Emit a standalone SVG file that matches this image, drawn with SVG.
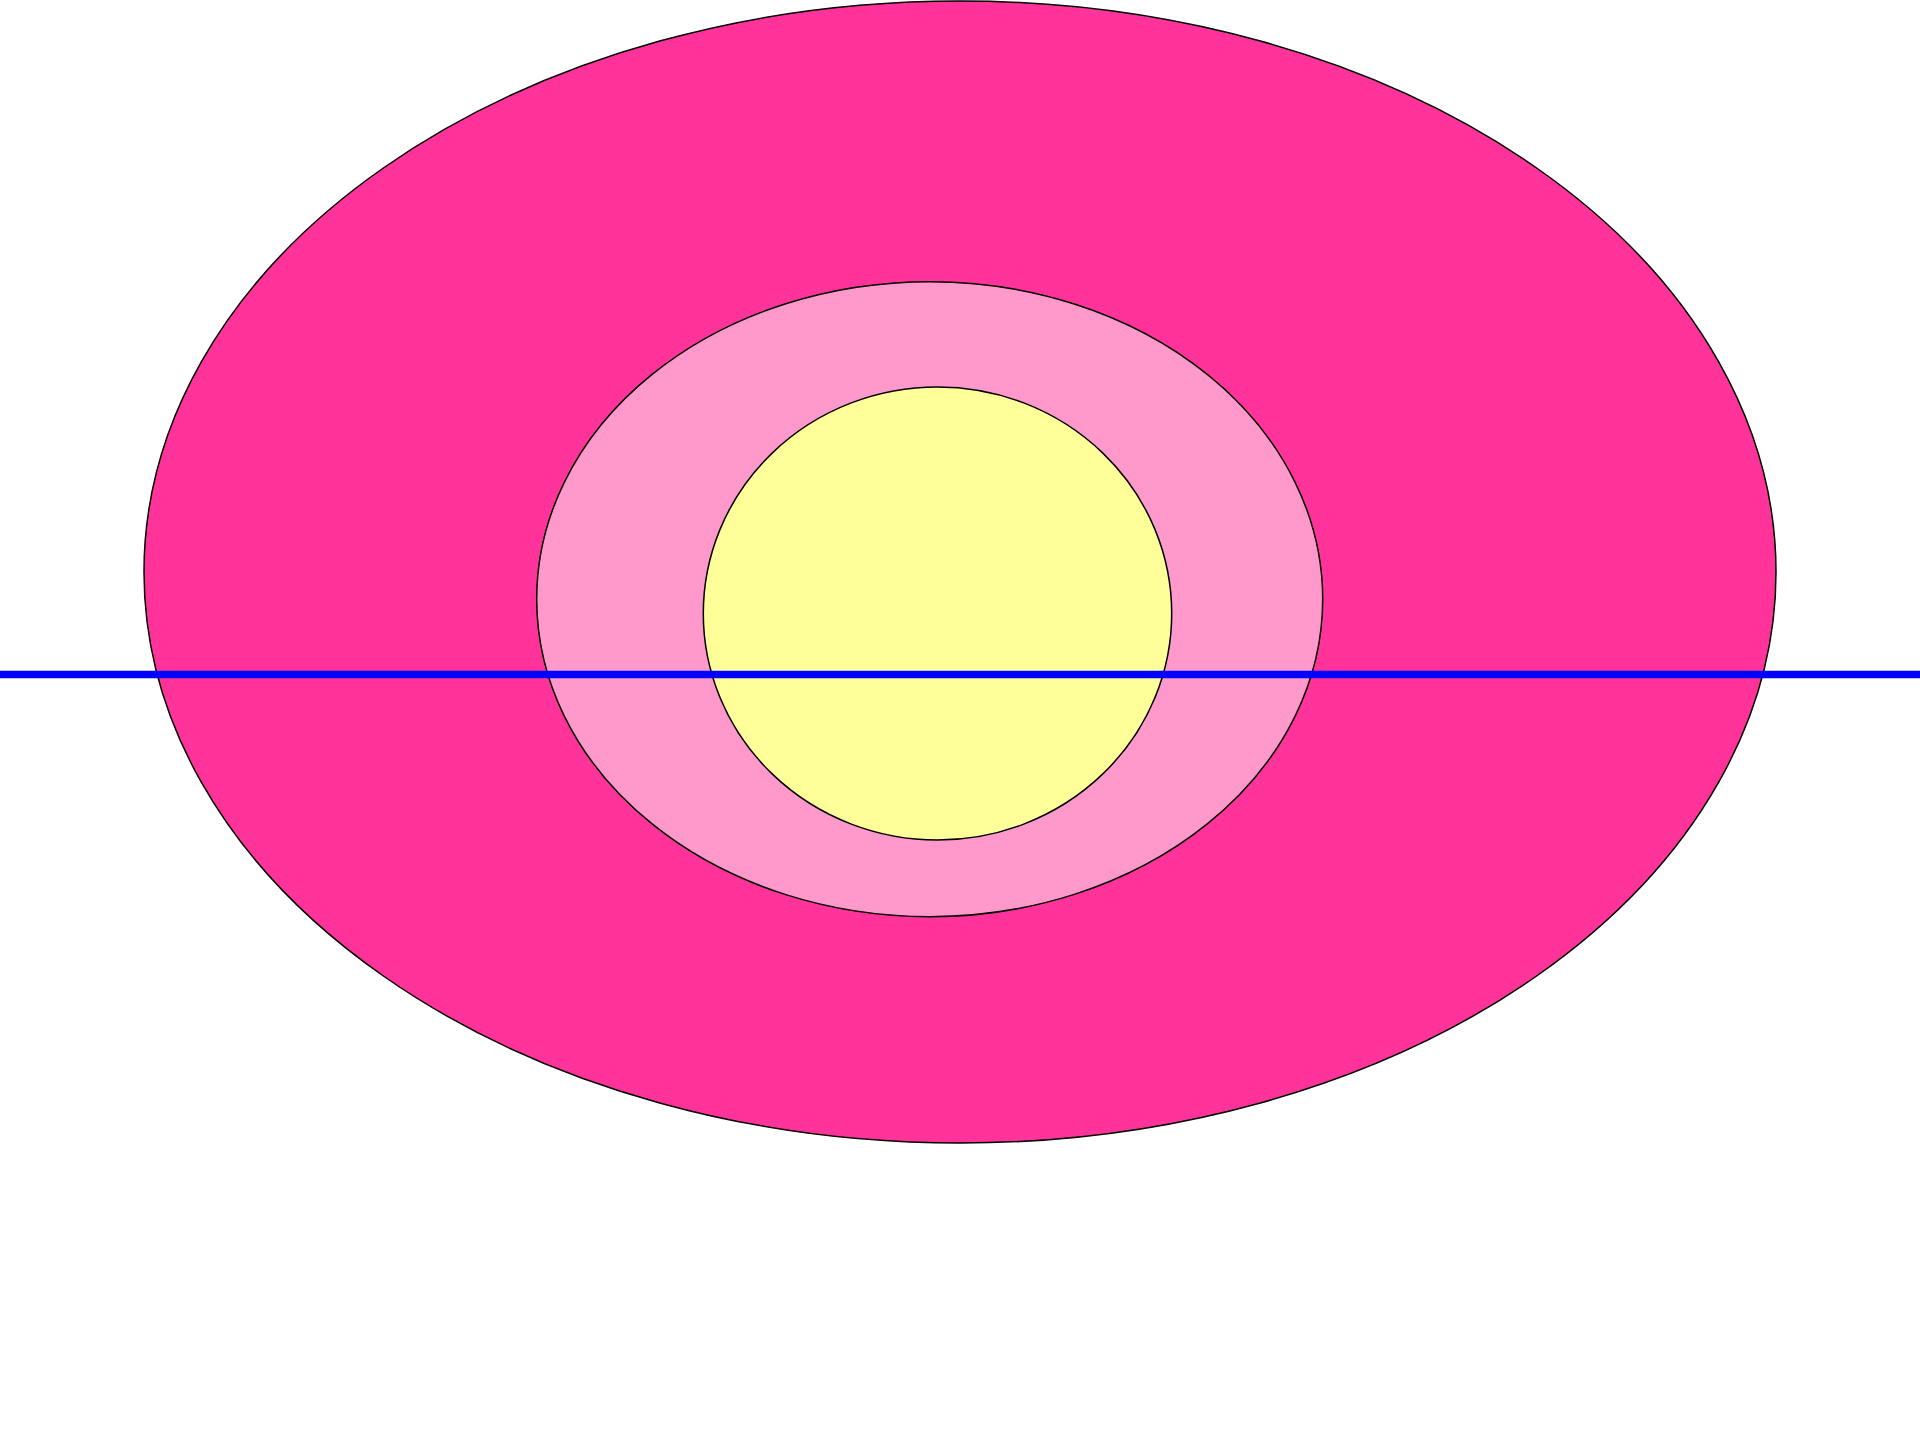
<svg xmlns="http://www.w3.org/2000/svg" width="1920" height="1440" viewBox="0 0 1920 1440">
<style>
.shape{stroke:#000;stroke-width:1.5}
</style>
<rect width="1920" height="1440" fill="#fff"/>
<g id="outer"><ellipse class="shape" cx="960" cy="572" rx="816" ry="571" fill="#FF3399"/></g>
<g id="middle"><ellipse class="shape" cx="929.7" cy="599.2" rx="393" ry="317.5" fill="#FF99CC"/></g>
<g id="inner"><ellipse class="shape" cx="937.5" cy="613.5" rx="234.2" ry="226.5" fill="#FFFF99"/></g>
<g id="connectors"><line x1="0" y1="674.5" x2="1920" y2="674.5" stroke="#0000FF" stroke-width="7.5"/></g>
</svg>
